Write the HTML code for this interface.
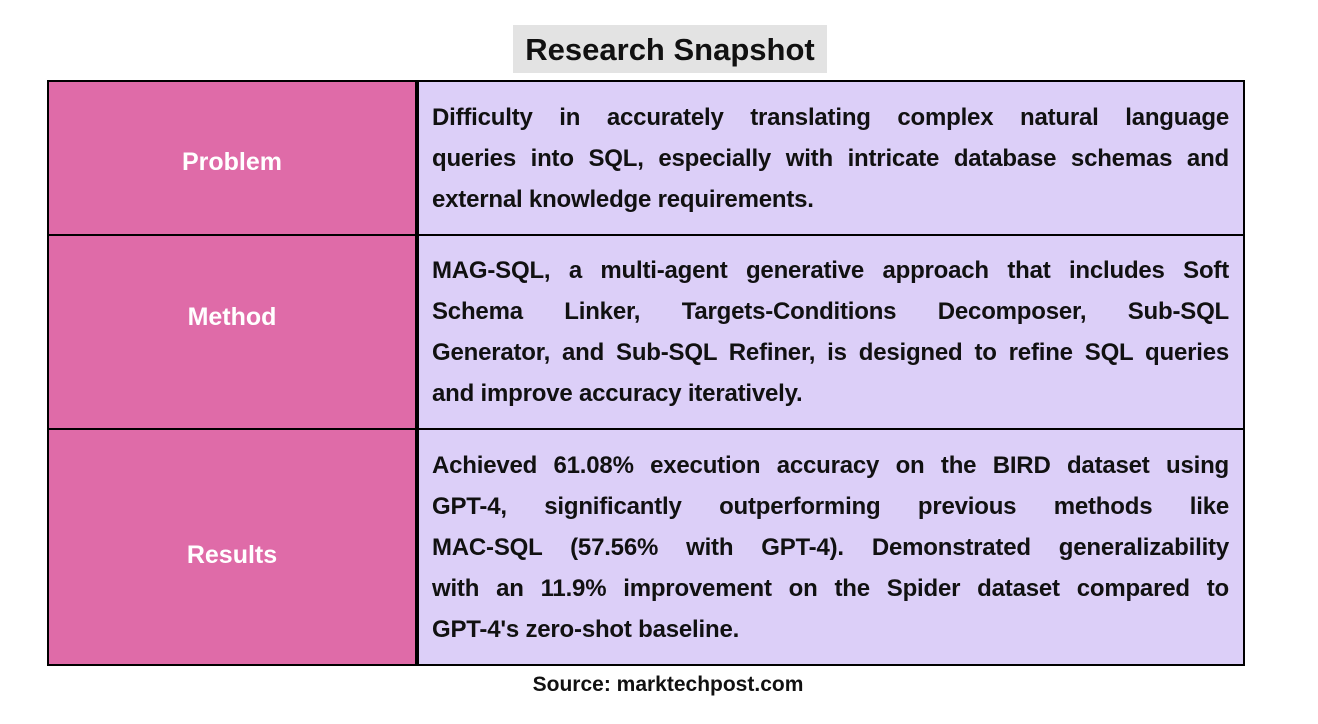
<!DOCTYPE html>
<html><head><meta charset="utf-8"><style>
body{margin:0;width:1318px;height:724px;background:#fff;position:relative;font-family:"Liberation Sans",sans-serif;font-weight:bold;overflow:hidden}
.a{position:absolute}
.t{position:absolute;left:513px;top:25px;width:314px;height:48px;background:#e3e3e3;font-size:31px;text-align:center;line-height:50px;color:#111}
.l{position:absolute;left:47px;width:370px;background:#df6ba8;border:2px solid #000;box-sizing:border-box}
.lab{position:absolute;left:47px;width:370px;text-align:center;color:#fff;font-size:25px;line-height:30px}
.r{position:absolute;left:417px;width:828px;background:#dccff8;border:2px solid #000;box-sizing:border-box}
.ln{position:absolute;left:432px;width:797px;font-size:24px;color:#111;text-align:justify;text-align-last:justify;white-space:nowrap;line-height:41px;height:41px;letter-spacing:-0.2px}
.last{text-align-last:left}
</style></head><body>
<div class="t">Research Snapshot</div>
<div class="l" style="top:80px;height:156px"></div>
<div class="r" style="top:80px;height:156px"></div>
<div class="l" style="top:234px;height:196px"></div>
<div class="r" style="top:234px;height:196px"></div>
<div class="l" style="top:428px;height:238px"></div>
<div class="r" style="top:428px;height:238px"></div>
<div class="lab" style="top:147px">Problem</div>
<div class="lab" style="top:302px">Method</div>
<div class="lab" style="top:540px">Results</div>
<div class="ln" style="top:97px">Difficulty in accurately translating complex natural language</div>
<div class="ln" style="top:138px">queries into SQL, especially with intricate database schemas and</div>
<div class="ln last" style="top:179px">external knowledge requirements.</div>
<div class="ln" style="top:250px">MAG-SQL, a multi-agent generative approach that includes Soft</div>
<div class="ln" style="top:291px">Schema Linker, Targets-Conditions Decomposer, Sub-SQL</div>
<div class="ln" style="top:332px">Generator, and Sub-SQL Refiner, is designed to refine SQL queries</div>
<div class="ln last" style="top:373px">and improve accuracy iteratively.</div>
<div class="ln" style="top:445px">Achieved 61.08% execution accuracy on the BIRD dataset using</div>
<div class="ln" style="top:486px">GPT-4, significantly outperforming previous methods like</div>
<div class="ln" style="top:527px">MAC-SQL (57.56% with GPT-4). Demonstrated generalizability</div>
<div class="ln" style="top:568px">with an 11.9% improvement on the Spider dataset compared to</div>
<div class="ln last" style="top:609px">GPT-4's zero-shot baseline.</div>
<div class="a" style="left:0;width:1336px;top:673px;text-align:center;font-size:21px;color:#111">Source: marktechpost.com</div>
</body></html>
